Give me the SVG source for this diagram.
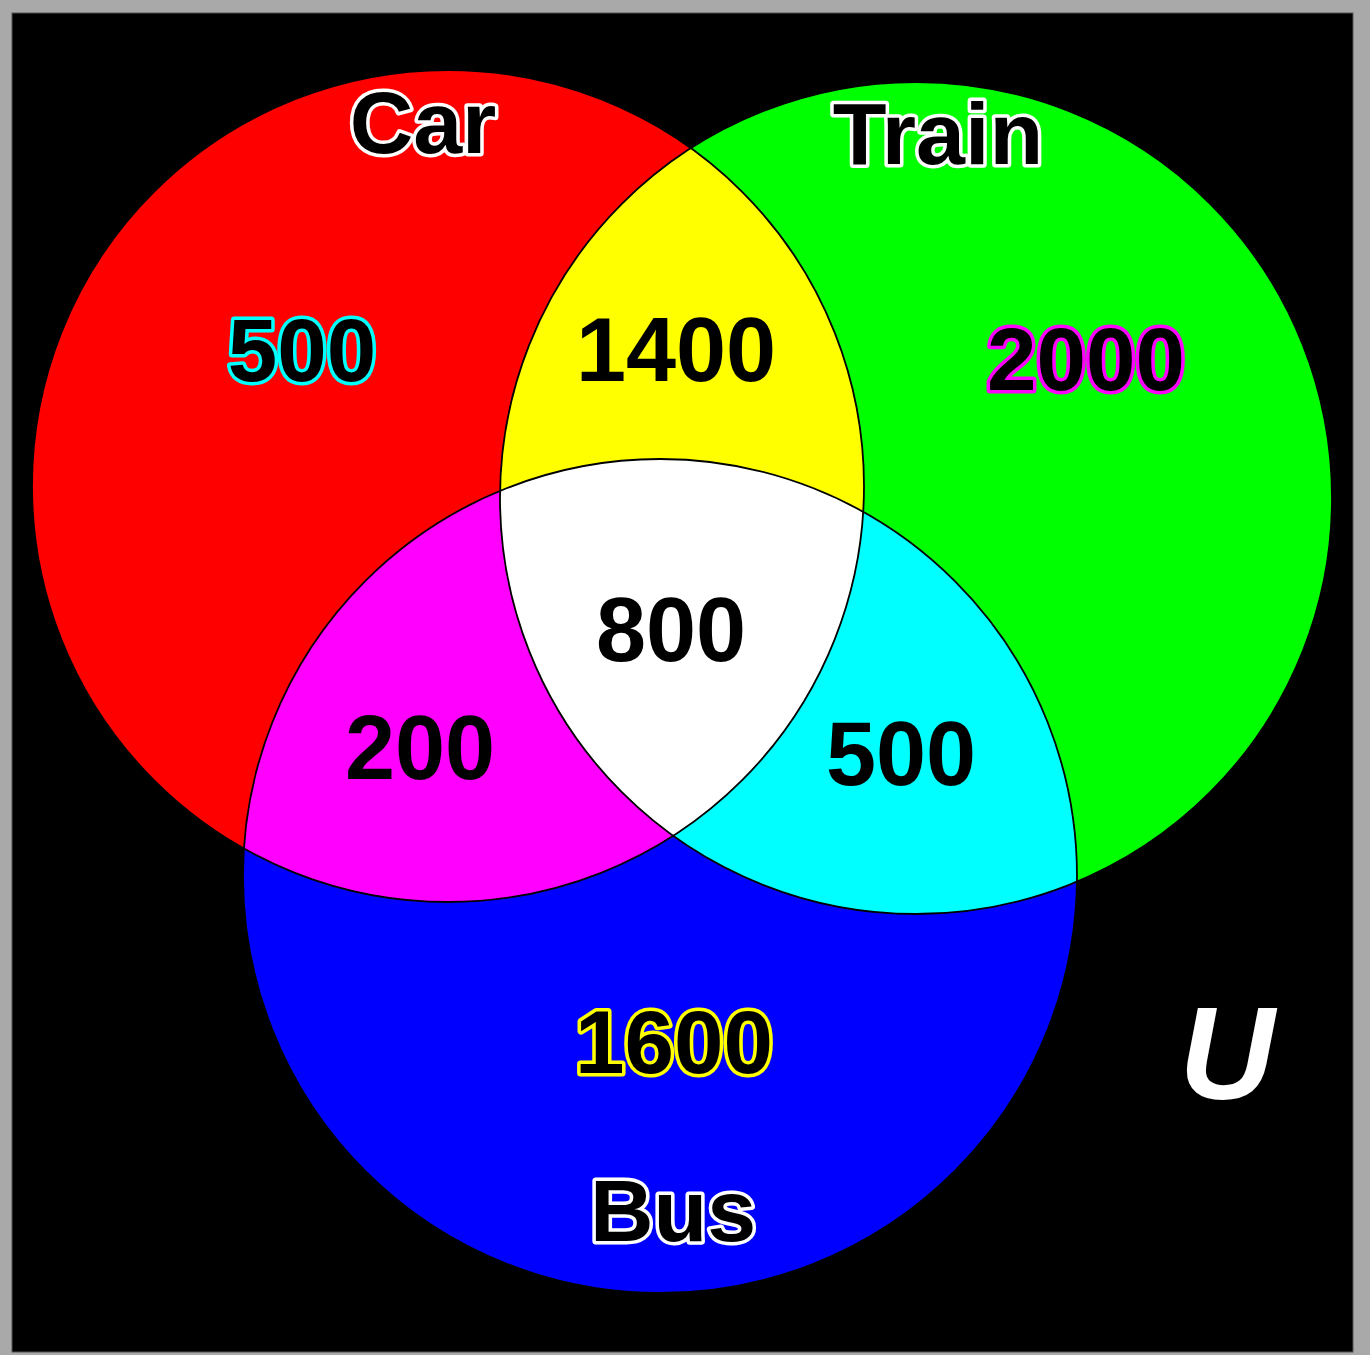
<svg xmlns="http://www.w3.org/2000/svg" width="1370" height="1355" viewBox="0 0 1370 1355">
<style>
text{font-family:"Liberation Sans",Arial,sans-serif;font-weight:bold;text-anchor:middle}
.lbl{font-size:88px;fill:#000;stroke:#fff;stroke-width:7;paint-order:stroke;stroke-linejoin:round}
.num{font-size:90px;fill:#000}
.sn{font-size:89px;fill:#000;stroke-width:7;paint-order:stroke;stroke-linejoin:round}
.outline{fill:none;stroke:#000;stroke-width:1.8}
</style>
<defs>
<clipPath id="cR"><circle cx="448" cy="486" r="416"/></clipPath>
<clipPath id="cG"><circle cx="916" cy="498" r="416"/></clipPath>
</defs>
<rect x="0" y="0" width="1370" height="1355" fill="#a9a9a9"/>
<rect x="12" y="13" width="1341" height="1339" fill="#000" stroke="#555" stroke-width="1"/>
<g id="car"><circle cx="448" cy="486" r="416" fill="#ff0000"/></g>
<g id="train"><circle cx="916" cy="498" r="416" fill="#00ff00"/></g>
<g id="bus"><circle cx="660" cy="876" r="417" fill="#0000ff"/></g>
<g id="car-train"><circle cx="916" cy="498" r="416" fill="#ffff00" clip-path="url(#cR)"/></g>
<g id="car-bus"><circle cx="660" cy="876" r="417" fill="#ff00ff" clip-path="url(#cR)"/></g>
<g id="train-bus"><circle cx="660" cy="876" r="417" fill="#00ffff" clip-path="url(#cG)"/></g>
<g id="all" clip-path="url(#cR)"><circle cx="660" cy="876" r="417" fill="#ffffff" clip-path="url(#cG)"/></g>
<g id="outlines">
<circle class="outline" cx="448" cy="486" r="416"/>
<circle class="outline" cx="916" cy="498" r="416"/>
<circle class="outline" cx="660" cy="876" r="417"/>
</g>
<g id="labels">
<text class="lbl" x="423" y="153">Car</text>
<text class="lbl" x="938" y="164">Train</text>
<text class="lbl" x="673" y="1241">Bus</text>
<text class="sn" x="302" y="381" stroke="#00ffff">500</text>
<text class="sn" x="1086" y="390" stroke="#ff00ff">2000</text>
<text class="sn" x="674" y="1073" stroke="#ffff00">1600</text>
<text class="num" x="676" y="381">1400</text>
<text class="num" x="671" y="661">800</text>
<text class="num" x="420" y="779">200</text>
<text class="num" x="901" y="785">500</text>
<text x="1227" y="1099" font-size="132" font-style="italic" fill="#fff">U</text>
</g>
</svg>
